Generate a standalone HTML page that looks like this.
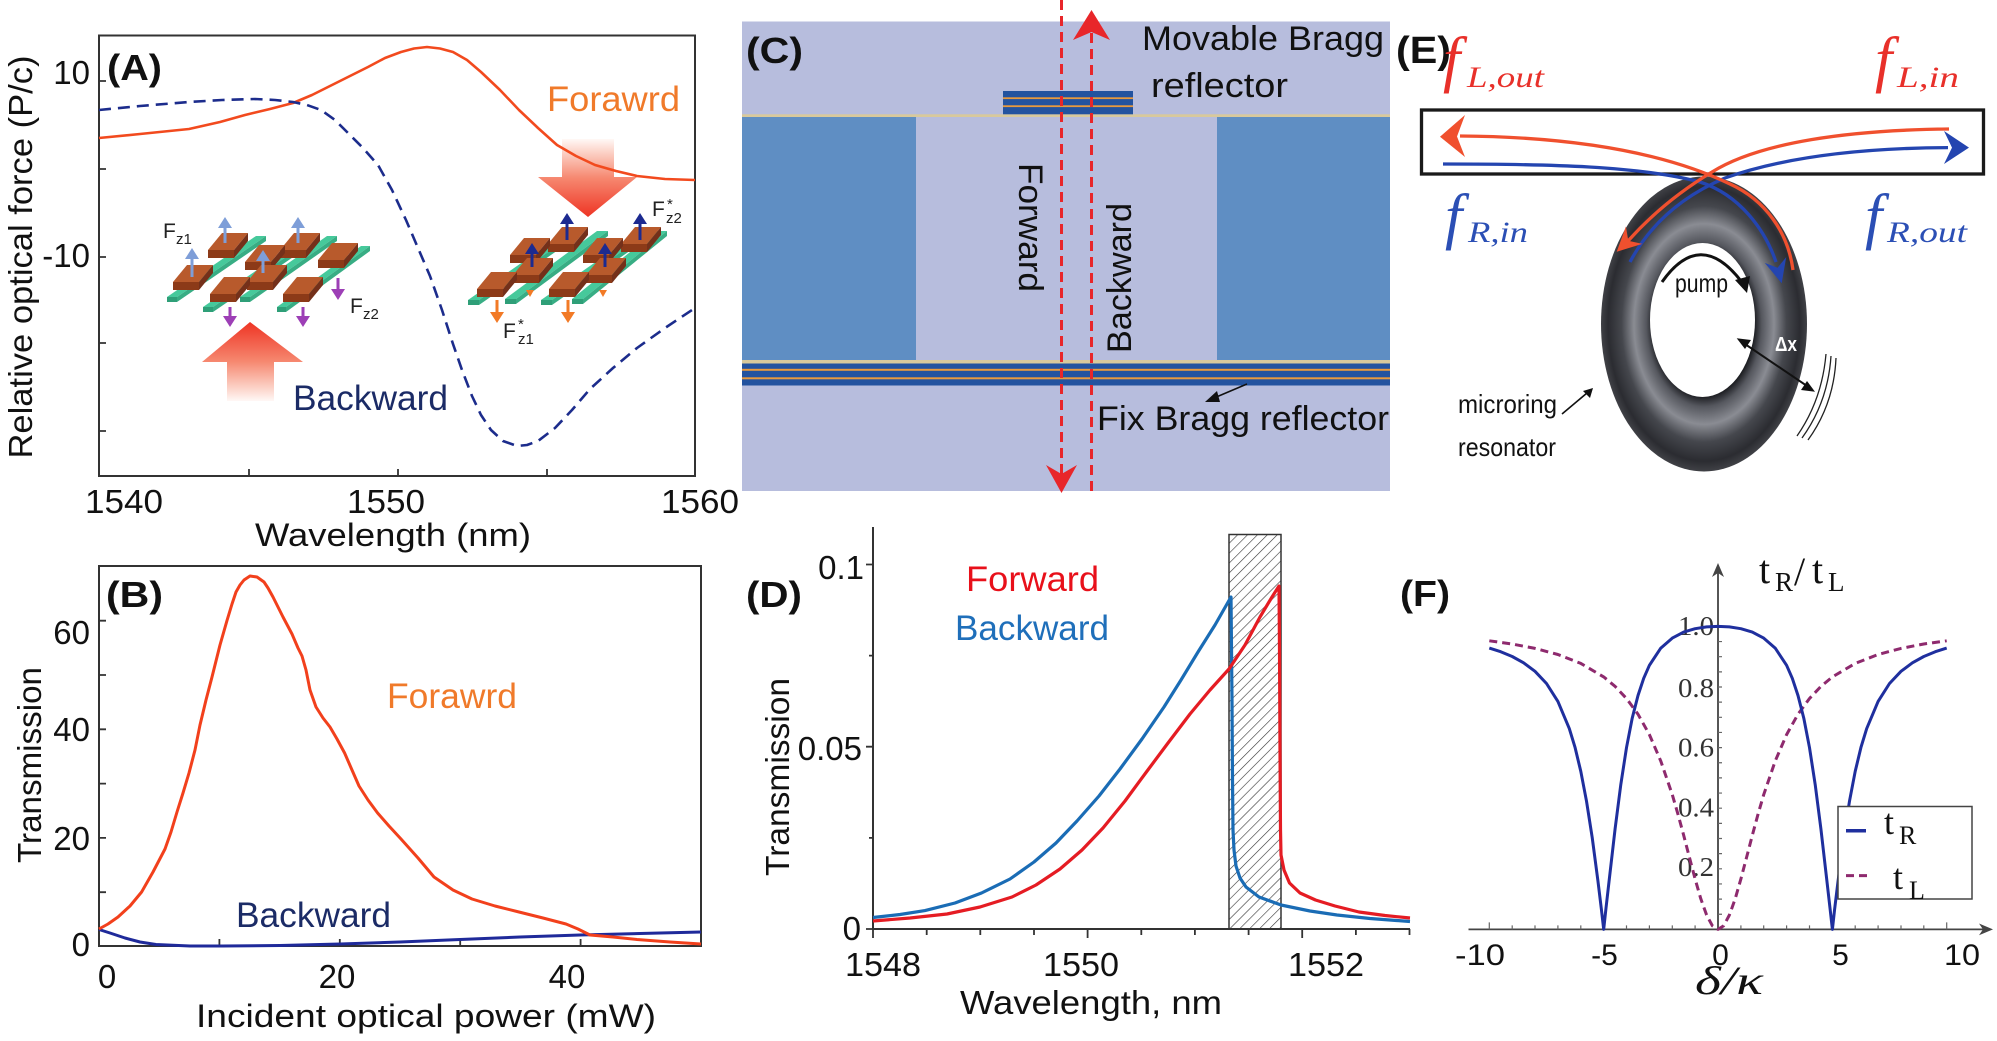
<!DOCTYPE html>
<html><head><meta charset="utf-8">
<style>
html,body{margin:0;padding:0;background:#fff;width:1997px;height:1041px;overflow:hidden}
svg{display:block}
text{font-family:"Liberation Sans",sans-serif}
.sf{font-family:"Liberation Serif",serif}
</style></head><body>
<svg width="1997" height="1041" viewBox="0 0 1997 1041" xmlns="http://www.w3.org/2000/svg">
<defs>
 <linearGradient id="gUp" x1="0" y1="0" x2="0" y2="1">
  <stop offset="0" stop-color="#ee3424"/><stop offset="0.5" stop-color="#f68870"/><stop offset="0.85" stop-color="#fcd6cc"/><stop offset="1" stop-color="#fff8f6"/>
 </linearGradient>
 <linearGradient id="gDown" x1="0" y1="1" x2="0" y2="0">
  <stop offset="0" stop-color="#ee3424"/><stop offset="0.5" stop-color="#f68870"/><stop offset="0.85" stop-color="#fcd6cc"/><stop offset="1" stop-color="#fff8f6"/>
 </linearGradient>
 <pattern id="hatch" width="7" height="7" patternUnits="userSpaceOnUse" patternTransform="rotate(45)">
  <rect width="7" height="7" fill="#fff"/>
  <line x1="0" y1="0" x2="0" y2="7" stroke="#333" stroke-width="1.2"/>
 </pattern>
 <radialGradient id="ring" cx="0.5" cy="0.5" r="0.5">
  <stop offset="0.48" stop-color="#141519"/>
  <stop offset="0.56" stop-color="#55575e"/>
  <stop offset="0.68" stop-color="#8a8c93"/>
  <stop offset="0.8" stop-color="#45474d"/>
  <stop offset="0.93" stop-color="#2b2c31"/>
  <stop offset="1" stop-color="#404146"/>
 </radialGradient>
</defs>

<!-- ================= PANEL A ================= -->
<rect x="99" y="35.5" width="596" height="440.5" fill="none" stroke="#333" stroke-width="2"/>
<path d="M99,81H106M99,169H106M99,257H106M99,343H106M99,431H106M249,476V469M398,476V469M547,476V469" stroke="#333" stroke-width="1.8"/>
<text x="107" y="80" font-size="36" font-weight="bold" textLength="55" lengthAdjust="spacingAndGlyphs" fill="#111">(A)</text>
<text x="90" y="84" font-size="33" text-anchor="end" fill="#111">10</text>
<text x="90" y="267" font-size="33" text-anchor="end" fill="#111">-10</text>
<text x="124" y="513" font-size="33" text-anchor="middle" textLength="78" lengthAdjust="spacingAndGlyphs" fill="#111">1540</text>
<text x="386" y="513" font-size="33" text-anchor="middle" textLength="78" lengthAdjust="spacingAndGlyphs" fill="#111">1550</text>
<text x="700" y="513" font-size="33" text-anchor="middle" textLength="78" lengthAdjust="spacingAndGlyphs" fill="#111">1560</text>
<text x="393" y="546" font-size="32" text-anchor="middle" textLength="276" lengthAdjust="spacingAndGlyphs" fill="#111">Wavelength (nm)</text>
<text transform="translate(32,257) rotate(-90)" font-size="33" text-anchor="middle" textLength="403" lengthAdjust="spacingAndGlyphs" fill="#111">Relative optical force (P/c)</text>

<!-- big arrows -->
<polygon points="562,139 614,139 614,177 637,177 588,217 538,177 562,177" fill="url(#gDown)"/>
<polygon points="250,322 303,362 274,362 274,401 227,401 227,362 202,362" fill="url(#gUp)"/>

<!-- slabs left -->
<g>
<polygon points="167,297 256,236 266,236 177,297" fill="#46c99b"/><polygon points="167,297 177,297 177,302 167,302" fill="#2f9f78"/><polygon points="177,297 266,236 266,241 177,302" fill="#38ad84"/>
<polygon points="203,307 292,246 302,246 213,307" fill="#46c99b"/><polygon points="203,307 213,307 213,312 203,312" fill="#2f9f78"/><polygon points="213,307 302,246 302,251 213,312" fill="#38ad84"/>
<polygon points="240,297 327,236 337,236 250,297" fill="#46c99b"/><polygon points="240,297 250,297 250,302 240,302" fill="#2f9f78"/><polygon points="250,297 337,236 337,241 250,302" fill="#38ad84"/>
<polygon points="277,307 361,246 370,246 286,307" fill="#46c99b"/><polygon points="277,307 286,307 286,312 277,312" fill="#2f9f78"/><polygon points="286,307 370,246 370,251 286,312" fill="#38ad84"/>
</g>
<!-- slabs right -->
<g>
<polygon points="468,300 550,243 561,243 479,300" fill="#46c99b"/><polygon points="468,300 479,300 479,305 468,305" fill="#2f9f78"/><polygon points="479,300 561,243 561,248 479,305" fill="#38ad84"/>
<polygon points="505,299 597,231 608,231 516,299" fill="#46c99b"/><polygon points="505,299 516,299 516,304 505,304" fill="#2f9f78"/><polygon points="516,299 608,231 608,236 516,304" fill="#38ad84"/>
<polygon points="541,300 623,243 634,243 552,300" fill="#46c99b"/><polygon points="541,300 552,300 552,305 541,305" fill="#2f9f78"/><polygon points="552,300 634,243 634,248 552,305" fill="#38ad84"/>
<polygon points="572,299 656,231 667,231 583,299" fill="#46c99b"/><polygon points="572,299 583,299 583,304 572,304" fill="#2f9f78"/><polygon points="583,299 667,231 667,236 583,304" fill="#38ad84"/>
</g>
<!-- bricks -->
<g>
<g transform="translate(208,233)"><polygon points="0,17 14,0 40,0 26,17" fill="#b85a2c"/><polygon points="0,17 26,17 26,25 0,25" fill="#8c3a18"/><polygon points="26,17 40,0 40,8 26,25" fill="#74301a"/></g>
<g transform="translate(280,233)"><polygon points="0,17 14,0 40,0 26,17" fill="#b85a2c"/><polygon points="0,17 26,17 26,25 0,25" fill="#8c3a18"/><polygon points="26,17 40,0 40,8 26,25" fill="#74301a"/></g>
<g transform="translate(318,243)"><polygon points="0,17 14,0 40,0 26,17" fill="#b85a2c"/><polygon points="0,17 26,17 26,25 0,25" fill="#8c3a18"/><polygon points="26,17 40,0 40,8 26,25" fill="#74301a"/></g>
<g transform="translate(245,245)"><polygon points="0,17 14,0 40,0 26,17" fill="#b85a2c"/><polygon points="0,17 26,17 26,25 0,25" fill="#8c3a18"/><polygon points="26,17 40,0 40,8 26,25" fill="#74301a"/></g>
<g transform="translate(173,265)"><polygon points="0,17 14,0 40,0 26,17" fill="#b85a2c"/><polygon points="0,17 26,17 26,25 0,25" fill="#8c3a18"/><polygon points="26,17 40,0 40,8 26,25" fill="#74301a"/></g>
<g transform="translate(247,265)"><polygon points="0,17 14,0 40,0 26,17" fill="#b85a2c"/><polygon points="0,17 26,17 26,25 0,25" fill="#8c3a18"/><polygon points="26,17 40,0 40,8 26,25" fill="#74301a"/></g>
<g transform="translate(210,277)"><polygon points="0,17 14,0 40,0 26,17" fill="#b85a2c"/><polygon points="0,17 26,17 26,25 0,25" fill="#8c3a18"/><polygon points="26,17 40,0 40,8 26,25" fill="#74301a"/></g>
<g transform="translate(283,277)"><polygon points="0,17 14,0 40,0 26,17" fill="#b85a2c"/><polygon points="0,17 26,17 26,25 0,25" fill="#8c3a18"/><polygon points="26,17 40,0 40,8 26,25" fill="#74301a"/></g>

<g transform="translate(548,227)"><polygon points="0,17 14,0 40,0 26,17" fill="#b85a2c"/><polygon points="0,17 26,17 26,25 0,25" fill="#8c3a18"/><polygon points="26,17 40,0 40,8 26,25" fill="#74301a"/></g>
<g transform="translate(621,227)"><polygon points="0,17 14,0 40,0 26,17" fill="#b85a2c"/><polygon points="0,17 26,17 26,25 0,25" fill="#8c3a18"/><polygon points="26,17 40,0 40,8 26,25" fill="#74301a"/></g>
<g transform="translate(510,238)"><polygon points="0,17 14,0 40,0 26,17" fill="#b85a2c"/><polygon points="0,17 26,17 26,25 0,25" fill="#8c3a18"/><polygon points="26,17 40,0 40,8 26,25" fill="#74301a"/></g>
<g transform="translate(583,238)"><polygon points="0,17 14,0 40,0 26,17" fill="#b85a2c"/><polygon points="0,17 26,17 26,25 0,25" fill="#8c3a18"/><polygon points="26,17 40,0 40,8 26,25" fill="#74301a"/></g>
<g transform="translate(513,258)"><polygon points="0,17 14,0 40,0 26,17" fill="#b85a2c"/><polygon points="0,17 26,17 26,25 0,25" fill="#8c3a18"/><polygon points="26,17 40,0 40,8 26,25" fill="#74301a"/></g>
<g transform="translate(586,258)"><polygon points="0,17 14,0 40,0 26,17" fill="#b85a2c"/><polygon points="0,17 26,17 26,25 0,25" fill="#8c3a18"/><polygon points="26,17 40,0 40,8 26,25" fill="#74301a"/></g>
<g transform="translate(477,272)"><polygon points="0,17 14,0 40,0 26,17" fill="#b85a2c"/><polygon points="0,17 26,17 26,25 0,25" fill="#8c3a18"/><polygon points="26,17 40,0 40,8 26,25" fill="#74301a"/></g>
<g transform="translate(549,272)"><polygon points="0,17 14,0 40,0 26,17" fill="#b85a2c"/><polygon points="0,17 26,17 26,25 0,25" fill="#8c3a18"/><polygon points="26,17 40,0 40,8 26,25" fill="#74301a"/></g>
</g>
<!-- force arrows -->
<g fill="#7e9ed8">
<rect x="190.5" y="258" width="3" height="19"/><polygon points="185,259 192,248 199,259"/>
<rect x="223.5" y="227" width="3" height="16"/><polygon points="218,228 225,217 232,228"/>
<rect x="261.5" y="260" width="3" height="13"/><polygon points="256,261 263,250 270,261"/>
<rect x="296.5" y="227" width="3" height="16"/><polygon points="291,228 298,217 305,228"/>
</g>
<g fill="#9d3fb6">
<rect x="228.5" y="307" width="3" height="10"/><polygon points="223,316 230,327 237,316"/>
<rect x="301.5" y="307" width="3" height="10"/><polygon points="296,316 303,327 310,316"/>
<rect x="336.5" y="278" width="3" height="12"/><polygon points="331,289 338,300 345,289"/>
</g>
<g fill="#1c2a90">
<rect x="565.5" y="223" width="3" height="17"/><polygon points="560,224 567,213 574,224"/>
<rect x="638.5" y="223" width="3" height="17"/><polygon points="633,224 640,213 647,224"/>
<rect x="530.5" y="253" width="3" height="14"/><polygon points="525,254 532,243 539,254"/>
<rect x="603.5" y="253" width="3" height="14"/><polygon points="598,254 605,243 612,254"/>
</g>
<g fill="#f27a26">
<rect x="495.5" y="300" width="3" height="13"/><polygon points="490,312 497,323 504,312"/>
<rect x="566.5" y="300" width="3" height="13"/><polygon points="561,312 568,323 575,312"/>
<polygon points="526,290 530,297 534,290"/><polygon points="599,290 603,297 607,290"/>
</g>
<g fill="#222">
<text x="163" y="238" font-size="21">F</text><text x="176" y="244" font-size="15">z1</text>
<text x="350" y="313" font-size="21">F</text><text x="363" y="319" font-size="15">z2</text>
<text x="652" y="216" font-size="21">F</text><text x="667" y="209" font-size="15">*</text><text x="666" y="223" font-size="15">z2</text>
<text x="503" y="338" font-size="21">F</text><text x="518" y="329" font-size="15">*</text><text x="518" y="344" font-size="15">z1</text>
</g>

<polyline fill="none" stroke="#f24a1e" stroke-width="2.6" stroke-linejoin="round" points="99,138 140,134 189,129 220,122 245,115 270,109 293,103 312,95 330,86 350,76 368,67 385,58 401,52 414,48.5 427,47 440,48.5 453,52 467,60 481,72 500,90 519,110 538,128 557,145 576,156 595,165 616,171 637,176 665,179 695,180"/>
<polyline fill="none" stroke="#1c2c8c" stroke-width="2.6" stroke-dasharray="12 7" stroke-linejoin="round" points="99,110 140,106 189,102 222,100 255,99 275,100 293,102 307,105 321,110 335,120 349,134 363,148 378,165 392,190 406,220 418,248 430,276 442,310 453,344 462,370 472,396 481,415 491,430 503,441 517,446 527,445 538,441 555,428 572,410 590,389 613,368 637,348 665,328 695,308"/>
<text x="547" y="111" font-size="35" fill="#f07a2a" textLength="133" lengthAdjust="spacingAndGlyphs">Forawrd</text>
<text x="293" y="410" font-size="35" fill="#1b2b66" textLength="155" lengthAdjust="spacingAndGlyphs">Backward</text>

<!-- ================= PANEL B ================= -->
<rect x="99" y="566" width="602" height="380" fill="none" stroke="#333" stroke-width="2"/>
<path d="M99,892.2H106M99,837.9H106M99,783.6H106M99,729.3H106M99,675H106M99,620.7H106M219.4,946V939M339.8,946V939M460.2,946V939M580.6,946V939" stroke="#333" stroke-width="1.8"/>
<text x="106" y="607" font-size="36" font-weight="bold" textLength="57" lengthAdjust="spacingAndGlyphs" fill="#111">(B)</text>
<g font-size="33" fill="#111" text-anchor="end">
<text x="90" y="644">60</text><text x="90" y="741">40</text><text x="90" y="850">20</text><text x="90" y="956">0</text>
</g>
<g font-size="33" fill="#111" text-anchor="middle">
<text x="107" y="988">0</text><text x="337" y="988">20</text><text x="567" y="988">40</text>
</g>
<text x="426" y="1027" font-size="32" text-anchor="middle" textLength="460" lengthAdjust="spacingAndGlyphs" fill="#111">Incident optical power (mW)</text>
<text transform="translate(41,765) rotate(-90)" font-size="33" text-anchor="middle" textLength="196" lengthAdjust="spacingAndGlyphs" fill="#111">Transmission</text>
<polyline fill="none" stroke="#1f2a9a" stroke-width="3" stroke-linejoin="round" points="99,929.5 110,933 125,938 140,942 156,944.5 190,946 222,946 280,945.5 340,944 400,942 460,939.5 520,937 580,935 640,933.5 701,932"/>
<polyline fill="none" stroke="#f2401c" stroke-width="3" stroke-linejoin="round" points="99,929 108,924 118,917 130,906 141.6,892 153,872 165,849 171,832 177,812 183,793 189,773 195,750 200,725 206,700 212,677 220,645 227,620.5 232,604 236,592 240,585 244,580 250,576 257,577 264,582 268,588 273,597 283,617 292,634 298,648 302,656 306,670 310,690 316,707 323,718 330,727 337,739 344.6,753 352,770 359,786 368,800 377.6,813 389,826 401,839 418,858 434,877 453,890 472,899 495,906 519,912 543,918 566,924 578,929 590,935 613,937 637,939.5 670,942 701,944"/>
<text x="387" y="708" font-size="35" fill="#f07a2a" textLength="130" lengthAdjust="spacingAndGlyphs">Forawrd</text>
<text x="236" y="927" font-size="35" fill="#1b2b66" textLength="155" lengthAdjust="spacingAndGlyphs">Backward</text>

<!-- ================= PANEL C ================= -->
<rect x="742" y="21.5" width="648" height="469.5" fill="#b7bddd"/>
<rect x="742" y="117" width="174" height="243" fill="#5f8ec3"/>
<rect x="1217" y="117" width="173" height="243" fill="#5f8ec3"/>
<rect x="742" y="114.3" width="648" height="2.7" fill="#d8c99c"/>
<rect x="1003" y="91" width="130" height="23.3" fill="#23539f"/>
<rect x="1003" y="97.3" width="130" height="1.8" fill="#e89a3e"/>
<rect x="1003" y="105.3" width="130" height="1.8" fill="#e89a3e"/>
<rect x="742" y="360" width="648" height="3.5" fill="#d8c99c"/>
<rect x="742" y="363.5" width="648" height="22" fill="#23539f"/>
<rect x="742" y="368.8" width="648" height="2" fill="#e89a3e"/>
<rect x="742" y="377.3" width="648" height="2" fill="#e89a3e"/>
<line x1="1061.5" y1="0" x2="1061.5" y2="474" stroke="#e8262a" stroke-width="3" stroke-dasharray="10 6"/>
<polygon points="1061.5,493 1046,465 1061.5,474 1077,465" fill="#e8262a"/>
<line x1="1091.5" y1="491" x2="1091.5" y2="32" stroke="#e8262a" stroke-width="3" stroke-dasharray="10 6"/>
<polygon points="1091.5,10 1073,40 1091.5,32 1110,40" fill="#e8262a"/>
<text x="746" y="63" font-size="36" font-weight="bold" textLength="57" lengthAdjust="spacingAndGlyphs" fill="#111">(C)</text>
<text x="1142" y="50" font-size="34" textLength="242" lengthAdjust="spacingAndGlyphs" fill="#111">Movable Bragg</text>
<text x="1151" y="97" font-size="34" textLength="137" lengthAdjust="spacingAndGlyphs" fill="#111">reflector</text>
<text x="1097" y="430" font-size="34" textLength="292" lengthAdjust="spacingAndGlyphs" fill="#111">Fix Bragg reflector</text>
<text transform="translate(1019,227.5) rotate(90)" font-size="34" text-anchor="middle" textLength="129" lengthAdjust="spacingAndGlyphs" fill="#111">Forward</text>
<text transform="translate(1131,278) rotate(-90)" font-size="34" text-anchor="middle" textLength="150" lengthAdjust="spacingAndGlyphs" fill="#111">Backward</text>
<line x1="1247" y1="384" x2="1214" y2="398" stroke="#111" stroke-width="1.5"/>
<polygon points="1205,402 1217,391 1220,402" fill="#111"/>

<!-- ================= PANEL D ================= -->
<rect x="1229" y="534.5" width="52" height="394.5" fill="url(#hatch)" stroke="#333" stroke-width="1.5"/>
<path d="M873,527V929H1410" stroke="#333" stroke-width="2" fill="none"/>
<path d="M866,564.5H873M869,655.6H873M866,746.7H873M869,837.9H873M866,929H873M873,929V938M926.7,929V935M980.3,929V935M1034,929V935M1087.6,929V938M1141.3,929V935M1194.9,929V935M1248.6,929V935M1302.2,929V938M1355.9,929V935M1409.5,929V935" stroke="#333" stroke-width="1.8"/>
<g font-size="33" fill="#111" text-anchor="end">
<text x="864" y="579">0.1</text><text x="862" y="760">0.05</text><text x="861" y="940">0</text>
</g>
<g font-size="33" fill="#111" text-anchor="middle">
<text x="883" y="976" textLength="76" lengthAdjust="spacingAndGlyphs">1548</text>
<text x="1081" y="976" textLength="76" lengthAdjust="spacingAndGlyphs">1550</text>
<text x="1326" y="976" textLength="76" lengthAdjust="spacingAndGlyphs">1552</text>
</g>
<text x="1091" y="1014" font-size="33" text-anchor="middle" textLength="262" lengthAdjust="spacingAndGlyphs" fill="#111">Wavelength, nm</text>
<text transform="translate(789,777) rotate(-90)" font-size="33" text-anchor="middle" textLength="198" lengthAdjust="spacingAndGlyphs" fill="#111">Transmission</text>
<text x="746" y="607" font-size="36" font-weight="bold" textLength="56" lengthAdjust="spacingAndGlyphs" fill="#111">(D)</text>
<text x="966" y="591" font-size="35" fill="#e8101a" textLength="133" lengthAdjust="spacingAndGlyphs">Forward</text>
<text x="955" y="640" font-size="35" fill="#1f6fba" textLength="154" lengthAdjust="spacingAndGlyphs">Backward</text>
<polyline fill="none" stroke="#1a6cb5" stroke-width="3.2" stroke-linejoin="round" points="873,917.5 900,914.5 925,910.6 955,903 981.5,893 1010,879 1034,862 1056,843 1077,821 1099,796 1120,769 1142,739 1164,707 1181,680 1198,652 1215,625 1231,597 1232,700 1232.5,780 1233,830 1234,850 1236,866 1240,878 1246,887 1259,897 1281,905 1310,911 1337,915 1370,918.5 1410,921.5"/>
<polyline fill="none" stroke="#e51c23" stroke-width="3.2" stroke-linejoin="round" points="873,921 910,918 947,914 980,907 1012,897 1036,885 1060,869 1082,850 1103,828 1125,801 1146,772.5 1168,743 1190,714 1210,690 1229,669 1245,645 1260,617 1272,597 1279,586 1279.5,650 1280,750 1280.5,830 1281,855 1284,870 1289.5,883 1300,893 1315.5,900 1335,906 1359,912 1385,915.5 1410,918"/>

<!-- ================= PANEL E ================= -->
<ellipse cx="1704" cy="324" rx="103" ry="147.5" fill="url(#ring)"/>
<ellipse cx="1702.5" cy="320" rx="52.5" ry="77" fill="#fff"/>
<rect x="1421.5" y="110" width="562" height="64" fill="none" stroke="#1a1a1a" stroke-width="3.3"/>
<g fill="none" stroke="#2445b0" stroke-width="3.3">
<path d="M1443,164 C1550,164 1640,166 1700,182 C1740,195 1765,230 1776,262"/>
<path d="M1630,262 C1648,228 1678,198 1725,178 C1790,155 1870,148 1948,147.6"/>
</g>
<polygon points="1781.7,283.3 1764.8,262.9 1777.5,267.8 1786.2,257.1" fill="#2445b0"/>
<polygon points="1969,147.6 1944,131 1952,147.6 1944,164" fill="#2445b0"/>
<g fill="none" stroke="#f0502e" stroke-width="3.3">
<path d="M1949,129 C1850,130 1760,142 1712,172 C1672,196 1645,222 1628,241"/>
<path d="M1793,270 C1788,232 1765,200 1730,184 C1680,160 1600,137 1460,136"/>
</g>
<polygon points="1616.7,251.7 1625.9,226.5 1628.3,240.7 1642.3,243.9" fill="#f0502e"/>
<polygon points="1440,136.7 1465,115 1457,136.5 1465,157" fill="#f0502e"/>
<path d="M1662,282 Q1700,228 1741,281" fill="none" stroke="#111" stroke-width="3"/>
<polygon points="1747,293 1735,280 1750,276" fill="#111"/>
<text x="1675" y="292" font-size="26" textLength="53" lengthAdjust="spacingAndGlyphs" fill="#111">pump</text>
<line x1="1742" y1="342" x2="1810" y2="388" stroke="#111" stroke-width="2"/>
<polygon points="1736.7,338.3 1751,340 1745,349" fill="#111"/>
<polygon points="1815,391.7 1801,390 1807,381" fill="#111"/>
<text x="1775" y="351" font-size="20" font-weight="bold" fill="#fff" textLength="22" lengthAdjust="spacingAndGlyphs">Δx</text>
<g fill="none" stroke="#222" stroke-width="1.3">
<path d="M1797,436 Q1822,400 1826,354"/><path d="M1802,438 Q1828,402 1831,356"/><path d="M1808,440 Q1834,404 1836,358"/>
</g>
<line x1="1562" y1="414" x2="1587" y2="393" stroke="#111" stroke-width="1.6"/>
<polygon points="1593,388 1590,398 1583,391" fill="#111"/>
<text x="1458" y="413" font-size="26" textLength="99" lengthAdjust="spacingAndGlyphs" fill="#111">microring</text>
<text x="1458" y="456" font-size="26" textLength="98" lengthAdjust="spacingAndGlyphs" fill="#111">resonator</text>
<text x="1396" y="63" font-size="38" font-weight="bold" textLength="55" lengthAdjust="spacingAndGlyphs" fill="#111">(E)</text>
<g>
<text class="sf" x="1443" y="80" font-size="62" fill="#e8302a" font-style="italic">f</text>
<text class="sf" x="1467" y="87" font-size="30" fill="#e8302a" font-style="italic" textLength="77" lengthAdjust="spacingAndGlyphs">L,out</text>
<text class="sf" x="1875" y="80" font-size="62" fill="#e8302a" font-style="italic">f</text>
<text class="sf" x="1897" y="87" font-size="30" fill="#e8302a" font-style="italic" textLength="62" lengthAdjust="spacingAndGlyphs">L,in</text>
<text class="sf" x="1445" y="237" font-size="62" fill="#2b4fb5" font-style="italic">f</text>
<text class="sf" x="1468" y="242" font-size="30" fill="#2b4fb5" font-style="italic" textLength="60" lengthAdjust="spacingAndGlyphs">R,in</text>
<text class="sf" x="1865" y="237" font-size="62" fill="#2b4fb5" font-style="italic">f</text>
<text class="sf" x="1887" y="242" font-size="30" fill="#2b4fb5" font-style="italic" textLength="80" lengthAdjust="spacingAndGlyphs">R,out</text>
</g>

<!-- ================= PANEL F ================= -->
<text x="1400" y="606" font-size="36" font-weight="bold" textLength="50" lengthAdjust="spacingAndGlyphs" fill="#111">(F)</text>
<path d="M1468.5,929.4H1984M1718,929.4V572" stroke="#444" stroke-width="1.8" fill="none"/>
<polygon points="1993,929.4 1979,923.5 1983,929.4 1979,935.3" fill="#444"/>
<polygon points="1718,563 1712,577 1718,573 1724,577" fill="#444"/>
<path d="M1718,914.25h4M1718,899.1h4M1718,883.95h4M1718,868.8h4M1718,853.65h4M1718,838.5h4M1718,823.35h4M1718,808.2h4M1718,793.05h4M1718,777.9h4M1718,762.75h4M1718,747.6h4M1718,732.45h4M1718,717.3h4M1718,702.15h4M1718,687h4M1718,671.85h4M1718,656.7h4M1718,641.55h4M1718,626.4h4
M1489.3,929.4v-7M1512.2,929.4v-4M1535,929.4v-4M1557.9,929.4v-4M1580.8,929.4v-4M1603.7,929.4v-7M1626.5,929.4v-4M1649.4,929.4v-4M1672.3,929.4v-4M1695.1,929.4v-4M1740.9,929.4v-4M1763.7,929.4v-4M1786.6,929.4v-4M1809.5,929.4v-4M1832.4,929.4v-7M1855.2,929.4v-4M1878.1,929.4v-4M1901,929.4v-4M1923.8,929.4v-4M1946.7,929.4v-7" stroke="#666" stroke-width="1.2" fill="none"/>
<g font-size="27" fill="#333" text-anchor="end">
<text class="sf" x="1714" y="635" textLength="36" lengthAdjust="spacingAndGlyphs">1.0</text>
<text class="sf" x="1714" y="697" textLength="36" lengthAdjust="spacingAndGlyphs">0.8</text>
<text class="sf" x="1714" y="756.6" textLength="36" lengthAdjust="spacingAndGlyphs">0.6</text>
<text class="sf" x="1714" y="816.4" textLength="36" lengthAdjust="spacingAndGlyphs">0.4</text>
<text class="sf" x="1714" y="876" textLength="36" lengthAdjust="spacingAndGlyphs">0.2</text>
</g>
<g font-size="30" fill="#111" text-anchor="middle">
<text x="1480" y="965" textLength="50" lengthAdjust="spacingAndGlyphs">-10</text>
<text x="1604.5" y="965">-5</text>
<text x="1720.5" y="965">0</text>
<text x="1840.5" y="965">5</text>
<text x="1962" y="965" textLength="36" lengthAdjust="spacingAndGlyphs">10</text>
</g>
<text class="sf" x="1695" y="994" font-size="40" font-style="italic" fill="#111" textLength="68" lengthAdjust="spacingAndGlyphs">δ/κ</text>
<g fill="#111">
<text class="sf" x="1759" y="583" font-size="40">t</text>
<text class="sf" x="1775" y="591" font-size="27">R</text>
<text class="sf" x="1794" y="585" font-size="40">/</text>
<text class="sf" x="1812" y="583" font-size="40">t</text>
<text class="sf" x="1828" y="591" font-size="27">L</text>
</g>
<polyline fill="none" stroke="#8e2a6e" stroke-width="3" stroke-dasharray="8 5" stroke-linejoin="round" points="1489.3,640.8 1512.2,644 1535,648.4 1557.9,654.5 1580.8,663.4 1603.7,676.9 1615.1,686.4 1626.5,698.5 1638,714.2 1649.4,734.6 1660.8,761.1 1672.3,794.7 1678,814.3 1683.7,835.4 1689.4,857.3 1695.1,878.9 1700.8,898.8 1706.6,915 1712.3,925.7 1718,929.4 1723.7,925.7 1729.4,915 1735.2,898.8 1740.9,878.9 1746.6,857.3 1752.3,835.4 1758,814.3 1763.7,794.7 1775.2,761.1 1786.6,734.6 1798,714.2 1809.5,698.5 1820.9,686.4 1832.4,676.9 1855.2,663.4 1878.1,654.5 1901,648.4 1923.8,644 1946.7,640.8"/>
<polyline fill="none" stroke="#1f2f9e" stroke-width="3" stroke-linejoin="round" points="1489.3,648.1 1500.7,651.7 1512.2,656.5 1523.6,662.8 1535,671.3 1546.5,683.5 1557.9,701.4 1569.3,728.6 1575.1,747.6 1580.8,771.4 1586.5,801.1 1592.2,837.5 1597.9,880.7 1601.4,909.4 1603.7,929.4 1605.9,909 1609.4,878.3 1615.1,828.8 1620.8,784.6 1626.5,747.6 1632.2,718.2 1638,695.5 1643.7,678.3 1649.4,665.3 1660.8,648.1 1672.3,638.1 1683.7,632.1 1695.1,628.7 1706.6,626.9 1718,626.4 1729.4,626.9 1740.9,628.7 1752.3,632.1 1763.7,638.1 1775.2,648.1 1786.6,665.3 1792.3,678.3 1798,695.5 1803.8,718.2 1809.5,747.6 1815.2,784.6 1820.9,828.8 1826.6,878.3 1830.1,909 1832.4,929.4 1834.6,909.4 1838.1,880.7 1843.8,837.5 1849.5,801.1 1855.2,771.4 1860.9,747.6 1866.7,728.6 1878.1,701.4 1889.5,683.5 1901,671.3 1912.4,662.8 1923.8,656.5 1935.3,651.7 1946.7,648.1"/>
<rect x="1838" y="806.5" width="134" height="92.5" fill="#fff" stroke="#444" stroke-width="1.5"/>
<line x1="1846" y1="830.7" x2="1866" y2="830.7" stroke="#1f2f9e" stroke-width="3.5"/>
<line x1="1846" y1="875.6" x2="1868" y2="875.6" stroke="#8e2a6e" stroke-width="3" stroke-dasharray="8 5"/>
<g fill="#111">
<text class="sf" x="1884" y="834" font-size="36">t</text>
<text class="sf" x="1899" y="844" font-size="26">R</text>
<text class="sf" x="1893" y="889" font-size="36">t</text>
<text class="sf" x="1909" y="899" font-size="26">L</text>
</g>
</svg>
</body></html>
